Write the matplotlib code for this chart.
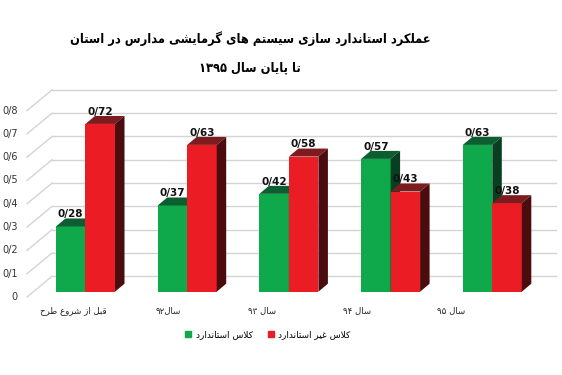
import matplotlib
matplotlib.use("Agg")
import matplotlib.pyplot as plt
from matplotlib.patches import Polygon
from matplotlib.lines import Line2D

# data
categories = ["قبل از شروع طرح", "سال۹۲", "سال ۹۳", "سال ۹۴", "سال ۹۵"]
standard = [0.28, 0.37, 0.42, 0.57, 0.63]
non_standard = [0.72, 0.63, 0.58, 0.43, 0.38]
series_names = ["کلاس استاندارد", "کلاس غیر استاندارد"]
yticks = [0, 0.1, 0.2, 0.3, 0.4, 0.5, 0.6, 0.7, 0.8]
title1 = "عملکرد استاندارد سازی سیستم های گرمایشی مدارس در استان"
title2 = "تا پایان سال ۱۳۹۵"

# minimal persian shaping (presentation forms + right-to-left order)
FORMS = {
    "ا": (0xFE8D, 0xFE8E, None, None),
    "ب": (0xFE8F, 0xFE90, 0xFE91, 0xFE92),
    "پ": (0xFB56, 0xFB57, 0xFB58, 0xFB59),
    "ت": (0xFE95, 0xFE96, 0xFE97, 0xFE98),
    "ح": (0xFEA1, 0xFEA2, 0xFEA3, 0xFEA4),
    "د": (0xFEA9, 0xFEAA, None, None),
    "ر": (0xFEAD, 0xFEAE, None, None),
    "ز": (0xFEAF, 0xFEB0, None, None),
    "س": (0xFEB1, 0xFEB2, 0xFEB3, 0xFEB4),
    "ش": (0xFEB5, 0xFEB6, 0xFEB7, 0xFEB8),
    "ط": (0xFEC1, 0xFEC2, 0xFEC3, 0xFEC4),
    "ع": (0xFEC9, 0xFECA, 0xFECB, 0xFECC),
    "غ": (0xFECD, 0xFECE, 0xFECF, 0xFED0),
    "ق": (0xFED5, 0xFED6, 0xFED7, 0xFED8),
    "ک": (0xFB8E, 0xFB8F, 0xFB90, 0xFB91),
    "گ": (0xFB92, 0xFB93, 0xFB94, 0xFB95),
    "ل": (0xFEDD, 0xFEDE, 0xFEDF, 0xFEE0),
    "م": (0xFEE1, 0xFEE2, 0xFEE3, 0xFEE4),
    "ن": (0xFEE5, 0xFEE6, 0xFEE7, 0xFEE8),
    "ه": (0xFEE9, 0xFEEA, 0xFEEB, 0xFEEC),
    "و": (0xFEED, 0xFEEE, None, None),
    "ی": (0xFBFC, 0xFBFD, 0xFBFE, 0xFBFF),
}
DIGITS = set("0123456789۰۱۲۳۴۵۶۷۸۹")


def dual(c):
    return c in FORMS and FORMS[c][2] is not None


def fa(text):
    out = []
    i = 0
    n = len(text)
    while i < n:
        c = text[i]
        if c not in FORMS:
            out.append(c)
            i += 1
            continue
        prev = i > 0 and dual(text[i - 1])
        if c == "ل" and i + 1 < n and text[i + 1] == "ا":
            out.append(chr(0xFEFC if prev else 0xFEFB))
            i += 2
            continue
        nxt = dual(c) and i + 1 < n and text[i + 1] in FORMS
        f = FORMS[c]
        if prev and nxt:
            out.append(chr(f[3]))
        elif prev:
            out.append(chr(f[1]))
        elif nxt:
            out.append(chr(f[2]))
        else:
            out.append(chr(f[0]))
        i += 1
    s = out[::-1]
    # put digit runs back in left-to-right order
    res = []
    j = 0
    while j < len(s):
        if s[j] in DIGITS:
            k = j
            while k < len(s) and s[k] in DIGITS:
                k += 1
            res.extend(s[j:k][::-1])
            j = k
        else:
            res.append(s[j])
            j += 1
    return "".join(res)


green = "#0fa84b"
green_top = "#0c5d30"
green_side = "#083f20"
red = "#ec1c24"
red_top = "#7c1c1e"
red_side = "#4a0c0e"

fig = plt.figure(figsize=(5.62, 3.75), dpi=100)
ax = fig.add_axes([0, 0, 1, 1])
ax.axis("off")
px_x = 101.7   # pixels per category
px_y = 233.0   # pixels per unit value
ax.set_xlim(-85.5 / px_x, (562 - 85.5) / px_x)
ax.set_ylim(-83.3 / px_y, (375 - 83.3) / px_y)

w = 29.5 / px_x
bdx, bdy = 9.5 / px_x, 8 / px_y          # bar depth
lab_dy = -5.3 / px_y                      # front plane (labels)
wall_dy = 15.4 / px_y                     # back wall
x_front = 27 / px_x - 85.5 / px_x
x_wall = x_front + 25 / px_x
x_end = (556 - 85.5) / px_x

# wall gridlines and left diagonals
for v in yticks:
    ax.plot([x_wall, x_end], [v + wall_dy, v + wall_dy], color="#d4d4d4", lw=1.0, zorder=1)
    ax.plot([x_front, x_wall], [v + lab_dy, v + wall_dy], color="#d4d4d4", lw=1.0, zorder=1)
    lbl = "0" if v == 0 else "0/%d" % round(v * 10)
    ax.text(x_front - 9 / px_x, v + lab_dy, lbl, ha="right", va="center",
            fontsize=7, color="#333333")


def bar3d(x0, v, cf, ct, cs, z):
    ax.add_patch(Polygon([(x0, 0), (x0 + w, 0), (x0 + w, v), (x0, v)],
                         closed=True, facecolor=cf, edgecolor="none", zorder=z))
    ax.add_patch(Polygon([(x0, v), (x0 + w, v), (x0 + w + bdx, v + bdy), (x0 + bdx, v + bdy)],
                         closed=True, facecolor=ct, edgecolor="none", zorder=z))
    ax.add_patch(Polygon([(x0 + w, 0), (x0 + w + bdx, bdy), (x0 + w + bdx, v + bdy), (x0 + w, v)],
                         closed=True, facecolor=cs, edgecolor="none", zorder=z))
    ax.text(x0 + w / 2, v + bdy - 0.004, ("%.2f" % v).replace(".", "/"), ha="center",
            va="bottom", fontsize=7.5, fontweight="bold", color="#111111", zorder=z + 1)


for i in range(len(categories)):
    bar3d(i - w, standard[i], green, green_top, green_side, 3 + 2 * i)
    bar3d(i, non_standard[i], red, red_top, red_side, 4 + 2 * i)
    ax.text(-0.118 + 0.928 * i, -0.083, fa(categories[i]), ha="center", va="center",
            fontsize=6.2, color="#222222")

fig.text(0.445, 0.896, fa(title1), ha="center", va="center", fontsize=9.2,
         fontweight="bold", fontstretch="condensed", color="black")
fig.text(0.445, 0.821, fa(title2), ha="center", va="center", fontsize=9.2,
         fontweight="bold", fontstretch="condensed", color="black")

handles = [Line2D([], [], marker="s", ls="none", color=green, markersize=4.5),
           Line2D([], [], marker="s", ls="none", color=red, markersize=4.5)]
fig.legend(handles, [fa(s) for s in series_names], loc="center", ncol=2,
           bbox_to_anchor=(0.475, 0.107), frameon=False, fontsize=6.5,
           handletextpad=0.3, columnspacing=1.5, handlelength=1)

fig.savefig("out.png", dpi=100, facecolor="white")
